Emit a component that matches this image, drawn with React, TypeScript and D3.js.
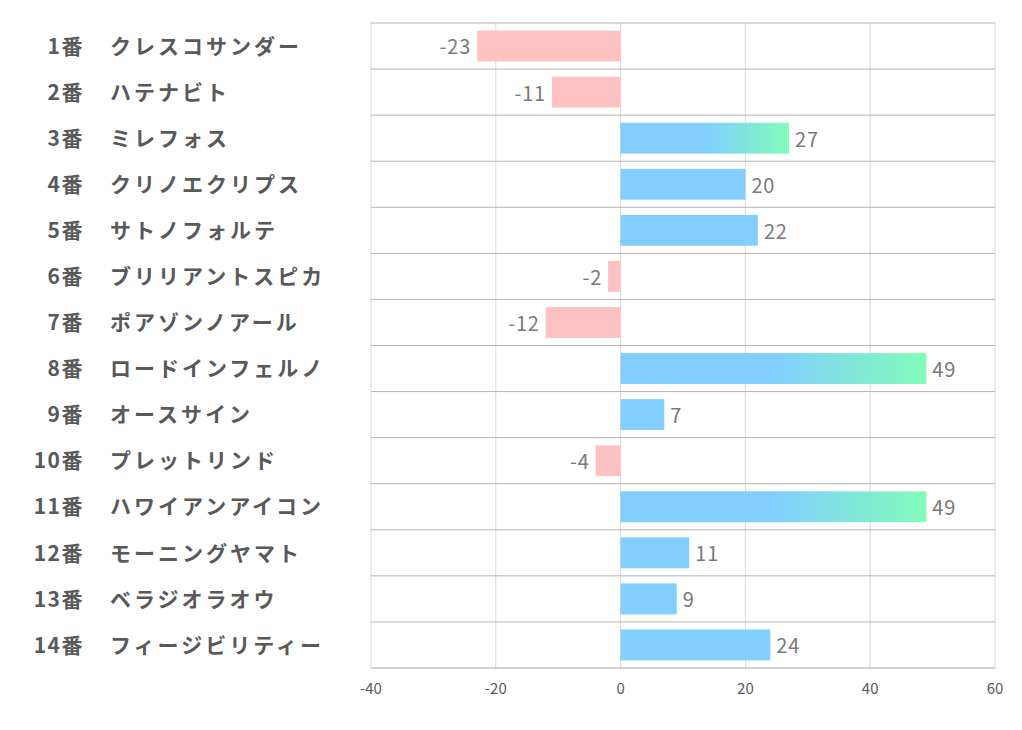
import React from "react";
import * as d3 from "d3";

const numbers = ["1番","2番","3番","4番","5番","6番","7番","8番","9番","10番","11番","12番","13番","14番"];
const names = ["クレスコサンダー","ハテナビト","ミレフォス","クリノエクリプス","サトノフォルテ","ブリリアントスピカ","ポアゾンノアール","ロードインフェルノ","オースサイン","プレットリンド","ハワイアンアイコン","モーニングヤマト","ベラジオラオウ","フィージビリティー"];
const values = [-23,-11,27,20,22,-2,-12,49,7,-4,49,11,9,24];
const ticks = [-40,-20,0,20,40,60];

export default function App() {
  const W = 1022, H = 730;
  const left = 371, right = 995, top = 23, bottom = 668;
  const x = d3.scaleLinear().domain([-40, 60]).range([left, right]);
  const y = d3.scaleBand<number>().domain(d3.range(values.length)).range([top, bottom]).paddingInner(0.33).paddingOuter(0.165);
  const step = y.step();
  const font = "'Noto Sans CJK JP', 'Noto Sans', sans-serif";
  return (
    <svg width={W} height={H} style={{ position: "absolute", left: 0, top: 0, background: "#fff" }}>
      <defs>
        <linearGradient id="g" x1="0" x2="1" y1="0" y2="0">
          <stop offset="0" stopColor="#7ACBFF" />
          <stop offset="0.5" stopColor="#7ACBFF" />
          <stop offset="1" stopColor="#7BFDB4" />
        </linearGradient>
      </defs>
      {ticks.map(t => (
        <line key={"v" + t} x1={x(t)} x2={x(t)} y1={top} y2={bottom} stroke="#d9d9d9" strokeWidth={1} />
      ))}
      {d3.range(values.length + 1).map(i => (
        <line key={"h" + i} x1={left} x2={right} y1={top + i * step} y2={top + i * step} stroke={i === values.length ? "#a6a6a6" : "#b4b4b4"} strokeWidth={1} />
      ))}
      {values.map((v, i) => {
        const x0 = x(Math.min(0, v)), x1 = x(Math.max(0, v));
        const fill = v < 0 ? "#FFBFBF" : v > 25 ? "url(#g)" : "#7ACBFF";
        return <rect key={"b" + i} x={x0} y={y(i)} width={x1 - x0} height={y.bandwidth()} fill={fill} fillOpacity={0.95} />;
      })}
      {values.map((v, i) => (
        <text key={"l" + i} x={v < 0 ? x(v) - 6 : x(v) + 6} y={(y(i) as number) + y.bandwidth() / 2 + 3} dominantBaseline="middle"
          textAnchor={v < 0 ? "end" : "start"} fontFamily={font} fontSize={20} letterSpacing={0.8} fill="#7a7a7a">{v}</text>
      ))}
      {numbers.map((n, i) => (
        <text key={"n" + i} x={84} y={top + i * step + step / 2 + 2} dominantBaseline="middle" textAnchor="end"
          fontFamily={font} fontSize={21} fontWeight="bold" fill="#595959" letterSpacing={1.5}>{n}</text>
      ))}
      {names.map((n, i) => (
        <text key={"m" + i} x={110} y={top + i * step + step / 2 + 2} dominantBaseline="middle" textAnchor="start"
          fontFamily={font} fontSize={21} fontWeight="bold" fill="#595959" letterSpacing={3}>{n}</text>
      ))}
      {ticks.map(t => (
        <text key={"t" + t} x={x(t)} y={690} dominantBaseline="middle" textAnchor="middle"
          fontFamily={font} fontSize={15} fill="#595959">{t}</text>
      ))}
    </svg>
  );
}
